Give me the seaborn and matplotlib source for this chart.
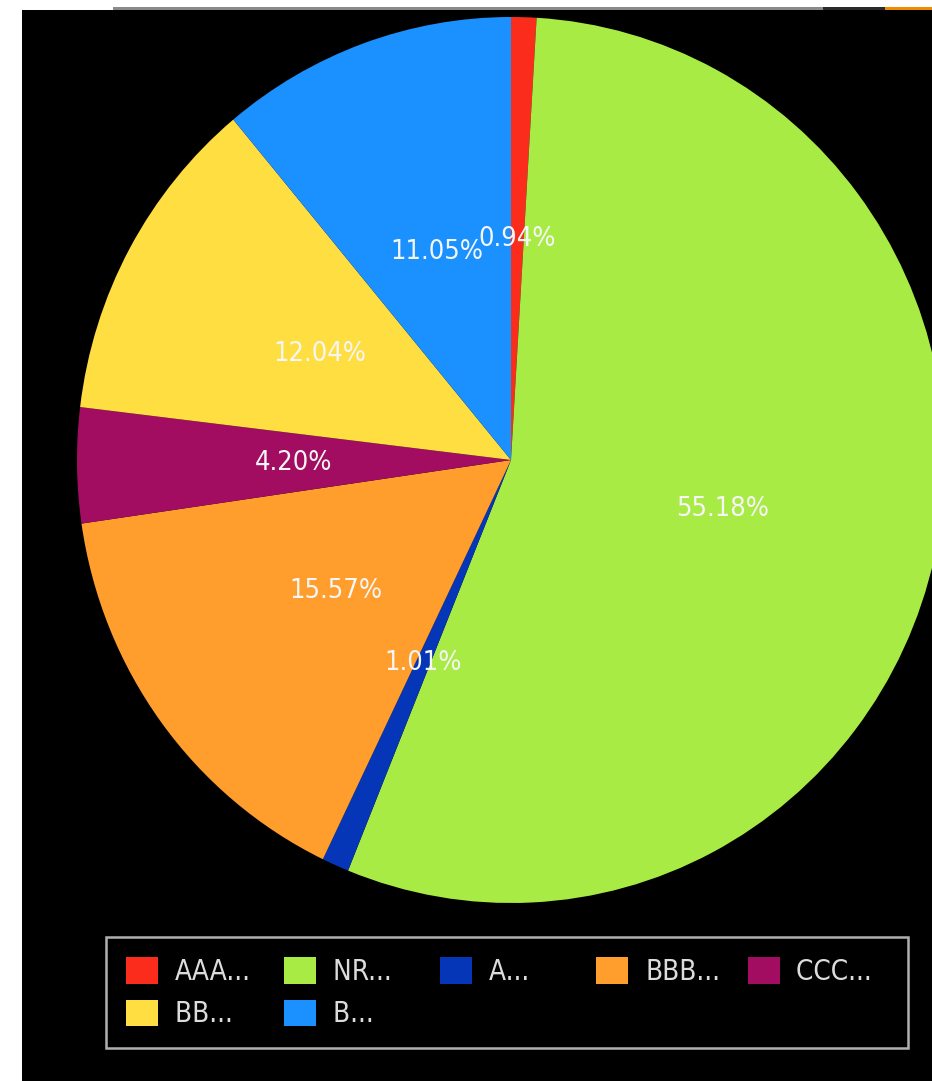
import matplotlib
matplotlib.use("Agg")
import matplotlib.pyplot as plt
import matplotlib.patches as mpatches
from matplotlib import font_manager
from matplotlib.font_manager import FontProperties
import seaborn as sns

# data, clockwise from the top
ratings = ["AAA...", "NR...", "A...", "BBB...", "CCC...", "BB...", "B..."]
shares = [0.94, 55.18, 1.01, 15.57, 4.20, 12.04, 11.05]
colors = ["#fb2c1c", "#a8eb45", "#0536b8", "#ff9e2c", "#a20d62", "#ffde41", "#1b91ff"]

sns.set_theme(style="white")
palette = sns.color_palette(colors)

# condensed DejaVu if it is there, plain DejaVu otherwise
cond = [f for f in font_manager.fontManager.ttflist
        if f.name.startswith("DejaVu Sans") and "Mono" not in f.name
        and (f.stretch == "condensed" or "Condensed" in f.name)
        and f.weight in (400, "normal") and f.style == "normal"]
if cond:
    fp = FontProperties(fname=cond[0].fname, size=19.5)
    fp_leg = FontProperties(fname=cond[0].fname, size=20)
else:
    fp = FontProperties(family="DejaVu Sans", size=17.5)
    fp_leg = FontProperties(family="DejaVu Sans", size=18)

W, H = 932, 1081
fig = plt.figure(figsize=(W / 100, H / 100), dpi=100)
fig.patch.set_facecolor("white")

# black panel + the bars along the top edge
fig.patches.append(mpatches.Rectangle((22 / W, 0), 1, 1 - 10 / H, transform=fig.transFigure,
                                      facecolor="black", edgecolor="none", zorder=-10))
fig.patches.append(mpatches.Rectangle((113 / W, 1 - 10 / H), 710 / W, 3 / H, transform=fig.transFigure,
                                      facecolor="#8a8a8a", edgecolor="none", zorder=-9))
fig.patches.append(mpatches.Rectangle((823 / W, 1 - 10 / H), 62 / W, 3 / H, transform=fig.transFigure,
                                      facecolor="#2a2a2a", edgecolor="none", zorder=-9))
fig.patches.append(mpatches.Rectangle((885 / W, 1 - 10 / H), 47 / W, 3 / H, transform=fig.transFigure,
                                      facecolor="#f08a00", edgecolor="none", zorder=-9))

# pie centre (511, 460) px, radii 434 x 443
cx, cy, rx, ry = 511, 460, 434, 443
ax = fig.add_axes([(cx - rx) / W, (H - cy - ry) / H, 2 * rx / W, 2 * ry / H])
ax.set_facecolor("none")

total = sum(shares)
wedges, texts, autotexts = ax.pie(
    shares, colors=palette, startangle=90, counterclock=False,
    autopct=lambda p: f"{p * total / 100:.2f}%", pctdistance=0.5,
    wedgeprops={"linewidth": 0},
    textprops={"fontproperties": fp, "color": "#f6f6f6"},
)
ax.set_aspect("auto")
ax.set_xlim(-1, 1)
ax.set_ylim(-1, 1)
ax.axis("off")

# pad legend labels so the columns come out the same width
renderer = fig.canvas.get_renderer()
def text_w(s):
    return renderer.get_text_width_height_descent(s, fp_leg, ismath=False)[0]
target = max(text_w(r) for r in ratings)
labels = []
for r in ratings:
    s = r
    while text_w(s) < target - 2 and len(s) < len(r) + 12:
        s += " "
    labels.append(s)
labels[4] += "  "

# legend fills column by column; reorder so it reads row by row
order = [0, 5, 1, 6, 2, 3, 4]
leg = fig.legend(
    [wedges[i] for i in order], [labels[i] for i in order], ncol=5, prop=fp_leg,
    loc="upper left", bbox_to_anchor=(106 / W, 1 - 937 / H - 0.01, 802 / W, 0.01),
    mode="expand", frameon=True, fancybox=False,
    facecolor="black", edgecolor="#b0b0b0", framealpha=1,
    handlelength=1.15, handleheight=1.1, handletextpad=0.6,
    borderpad=0.72, labelspacing=0.5, columnspacing=1.0, borderaxespad=0,
)
leg.get_frame().set_linewidth(1.8)
for t in leg.get_texts():
    t.set_color("#dcdcdc")

fig.savefig("out.png", dpi=100, facecolor=fig.get_facecolor())
